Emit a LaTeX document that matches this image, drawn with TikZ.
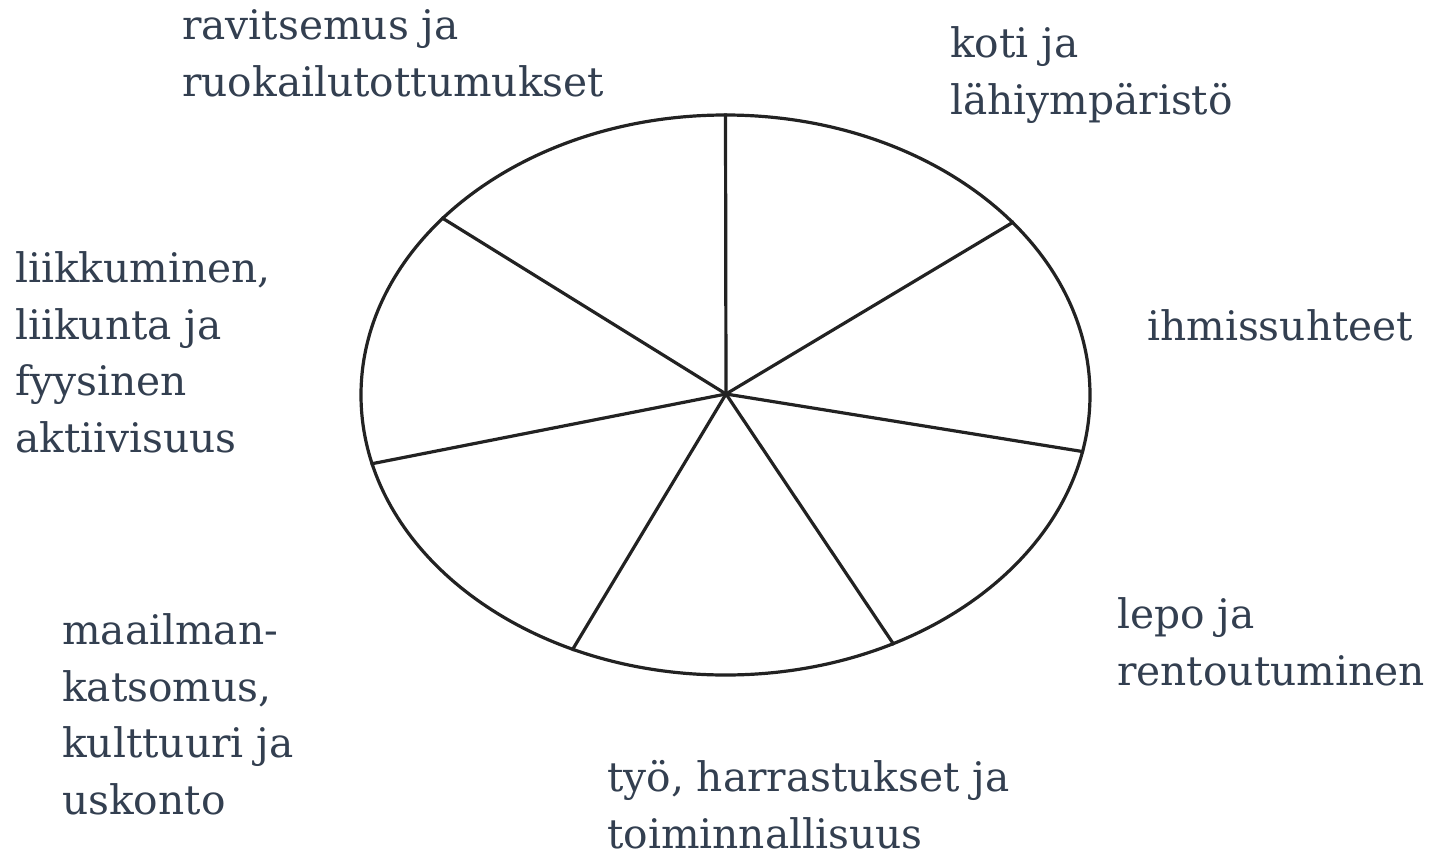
\documentclass[tikz,border=0pt]{standalone}
\usepackage{fontspec}
\setmainfont{DejaVu Serif}
\usetikzlibrary{shapes.geometric}
\definecolor{labelcol}{HTML}{333F50}
\definecolor{linecol}{HTML}{222222}
\tikzset{
  lbl/.style={anchor=base west, inner sep=0pt, align=left, text=labelcol,
    font=\fontsize{40.7}{56.5}\selectfont},
  wheel/.style={draw=linecol, line width=3.2pt, ellipse, minimum width=729pt, minimum height=560pt, inner sep=0pt},
  spoke/.style={draw=linecol, line width=3.2pt}
}
\begin{document}
\begin{tikzpicture}[x=1pt,y=-1pt]
\useasboundingbox (0,0) rectangle (1436,857);
\node[wheel] (e) at (725.5,395) {};
\coordinate (c) at (726,394);
\foreach \a in {90.4,31.6,-9.7,-56.8,-121.2,-169.7,148.5}
  \draw[spoke] (c) -- (e.\a);
\node[lbl] (t1) at (182,96) {ravitsemus ja\\ruokailutottumukset};
\node[lbl] (t2) at (950,114) {koti ja\\lähiympäristö};
\node[lbl] (t3) at (1147,340) {ihmissuhteet};
\node[lbl] (t4) at (15,452) {liikkuminen,\\liikunta ja\\fyysinen\\aktiivisuus};
\node[lbl] (t5) at (62,814) {maailman-\\katsomus,\\kulttuuri ja\\uskonto};
\node[lbl] (t6) at (1117,685) {lepo ja\\rentoutuminen};
\node[lbl] (t7) at (607,848) {työ, harrastukset ja\\toiminnallisuus};
\end{tikzpicture}
\end{document}
